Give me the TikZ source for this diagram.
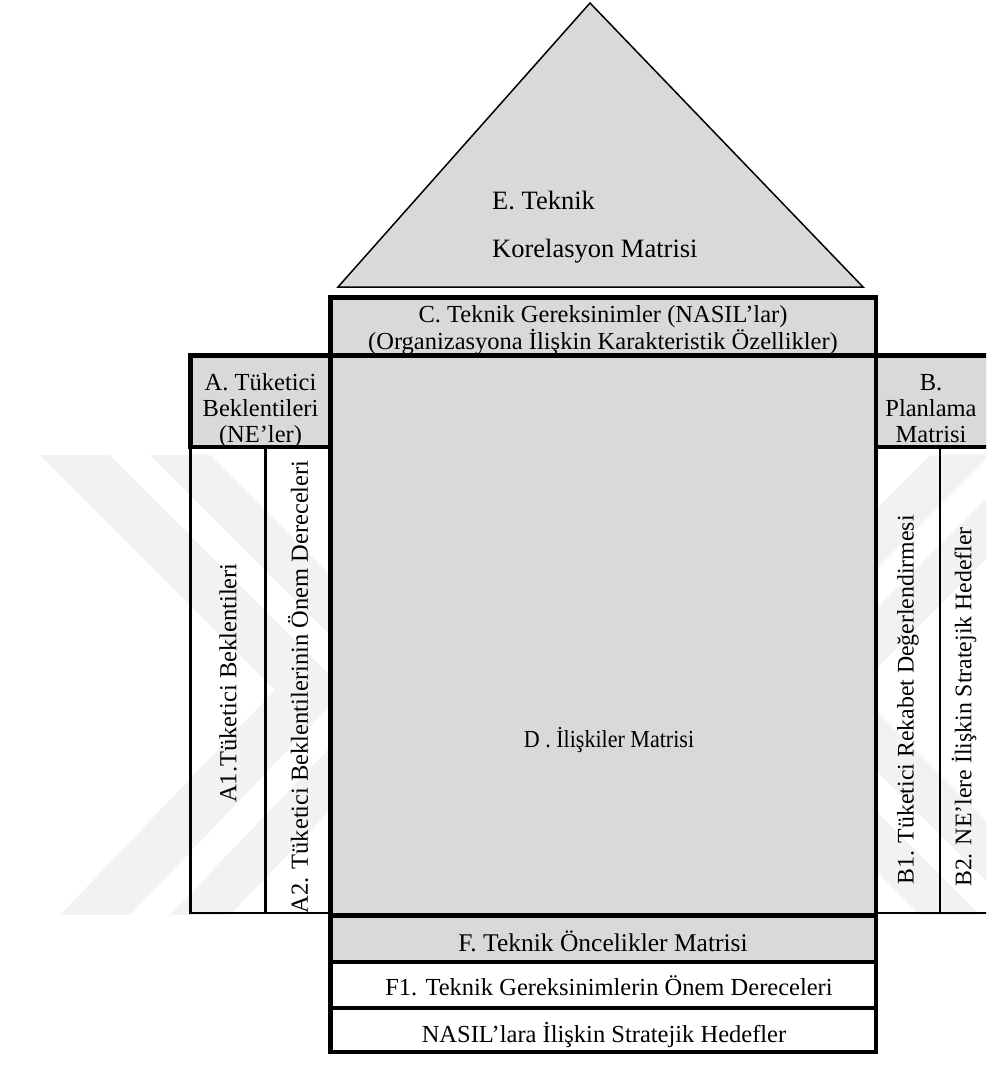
\documentclass[tikz,border=0pt]{standalone}
\usepackage{fontspec}
\setmainfont{Liberation Serif}
\definecolor{panel}{HTML}{D9D9D9}
\definecolor{wmark}{HTML}{F2F2F2}
\begin{document}
\begin{tikzpicture}[x=1pt,y=-1pt,
  heavy/.style={draw=black,line width=4.6pt},
  light/.style={draw=black,line width=2.3pt},
  roof/.style={draw=black,line width=1.5pt,fill=panel,line join=miter},
  lbl/.style={font=\fontsize{24.5}{27}\selectfont,inner sep=0pt,anchor=base},
  vlbl/.style={font=\fontsize{24.5}{27}\selectfont,inner sep=0pt,rotate=90},
  bigl/.style={font=\fontsize{26.5}{30}\selectfont,inner sep=0pt,anchor=base west}]
\useasboundingbox (0,0) rectangle (986,1086);
\clip (0,0) rectangle (986,1086);

% faint background chevrons
\begin{scope}
  \clip (0,448) rectangle (986,914);
  \fill[wmark] (40,455) -- (110,455) -- (345,690) -- (130,915) -- (60,915) -- (275,690) -- cycle;
  \fill[wmark] (150,455) -- (210,455) -- (445,690) -- (230,915) -- (170,915) -- (385,690) -- cycle;
  \fill[wmark] (930,455) -- (990,455) -- (755,690) -- (990,925) -- (930,925) -- (695,690) -- cycle;
  \fill[wmark] (1030,455) -- (1090,455) -- (855,690) -- (1090,925) -- (1030,925) -- (795,690) -- cycle;
\end{scope}

% roof: correlation matrix
\draw[roof] (338,287) -- (590,3) -- (863,287) -- cycle;

% main grey blocks
\draw[heavy,fill=panel] (330.5,297.5) rectangle (876,355.5);
\draw[heavy,fill=panel] (330.5,355.5) rectangle (876,915.5);
\draw[heavy,fill=panel] (190.5,355.5) rectangle (330.5,447);
\draw[heavy,fill=panel] (876,355.5) rectangle (996,447);

% left and right side columns
\draw[light] (330.5,913) -- (190.5,913) -- (190.5,447);
\draw[light] (265.5,447) -- (265.5,913);
\draw[light] (876,913) -- (996,913);
\draw[light] (940,447) -- (940,913);

% basement rows
\draw[heavy,fill=panel] (330.5,915.5) rectangle (876,962);
\draw[heavy] (330.5,962) rectangle (876,1008);
\draw[heavy] (330.5,1008) rectangle (876,1052);

% labels
\node[bigl] (e1) at (492,209) {E. Teknik};
\node[bigl] (e2) at (492,257) {Korelasyon Matrisi};

\node[lbl] (c1) at (603,322) {C. Teknik Gereksinimler (NASIL’lar)};
\node[lbl] (c2) at (603,349) {(Organizasyona İlişkin Karakteristik Özellikler)};

\node[lbl] (a1) at (260.5,390) {A. Tüketici};
\node[lbl] (a2) at (260.5,416) {Beklentileri};
\node[lbl] (a3) at (260.5,442) {(NE’ler)};

\node[lbl] (b1) at (931,390) {B.};
\node[lbl] (b2) at (931,416) {Planlama};
\node[lbl] (b3) at (931,442) {Matrisi};

\node[font=\fontsize{24.5}{27}\selectfont,inner sep=0pt] (d) at (609,740)
  {\scalebox{0.9}[1]{D . İlişkiler Matrisi}};

\node[vlbl] (ca1) at (228,683) {A1.Tüketici Beklentileri};
\node[vlbl] (ca2) at (298,687) {A2. Tüketici Beklentilerinin Önem Dereceleri};
\node[vlbl,font=\fontsize{23.8}{27}\selectfont] (cb1) at (908,700) {B1. Tüketici Rekabet Değerlendirmesi};
\node[vlbl,font=\fontsize{23.8}{27}\selectfont] (cb2) at (964,707) {B2. NE’lere İlişkin Stratejik Hedefler};

\node[lbl,font=\fontsize{25.5}{28}\selectfont] (f) at (603,951) {F. Teknik Öncelikler Matrisi};
\node[lbl] (f1) at (609,995) {F1. Teknik Gereksinimlerin Önem Dereceleri};
\node[lbl] (fs) at (604,1042) {NASIL’lara İlişkin Stratejik Hedefler};
\end{tikzpicture}
\end{document}
